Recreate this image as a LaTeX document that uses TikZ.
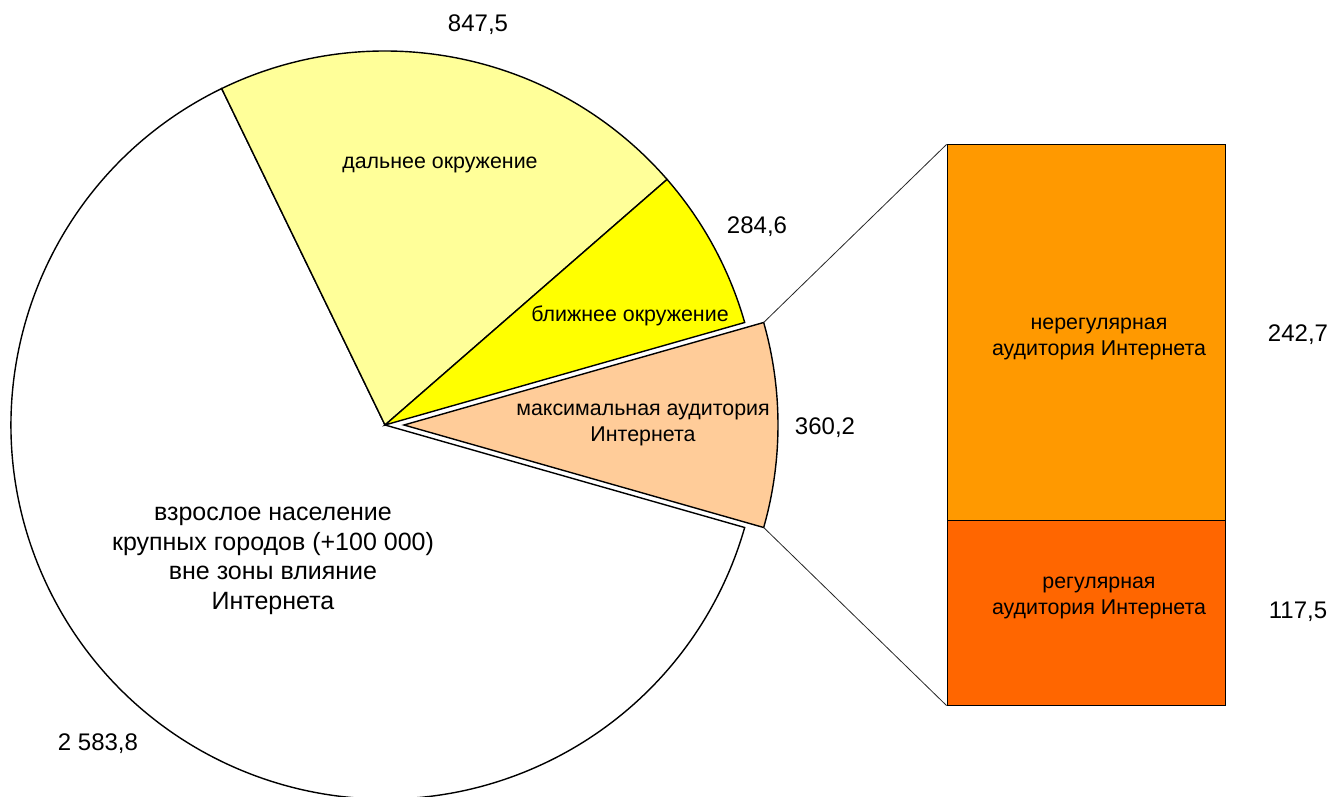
\documentclass[tikz,border=0pt]{standalone}
\usepackage{fontspec}
\setmainfont{Liberation Sans}
\definecolor{lyel}{HTML}{FFFF99}
\definecolor{yel}{HTML}{FFFF00}
\definecolor{peach}{HTML}{FFCC99}
\definecolor{orng}{HTML}{FF9900}
\definecolor{dorng}{HTML}{FF6600}
\begin{document}
\begin{tikzpicture}[x=1pt,y=1pt,
  slice/.style={draw=black,line width=1.4pt,line join=miter},
  num/.style={font=\fontsize{24}{28}\selectfont,inner sep=0pt},
  inlab/.style={font=\fontsize{21.4}{25.5}\selectfont,align=center,inner sep=0pt},
  biglab/.style={font=\fontsize{25}{29.5}\selectfont,align=center,inner sep=0pt},
  barseg/.style={draw=black,line width=1pt,minimum width=278pt,inner sep=0pt},
  conn/.style={draw=black!85,line width=0.8pt}]
\useasboundingbox (0,0) rectangle (1328,796);
\clip (0,0) rectangle (1328,796);
\def\R{374}
\coordinate (O) at (385,371);
\coordinate (Oe) at (404,371);
% white slice
\draw[slice,fill=white] (O) -- ++(115.894:\R) arc[start angle=115.894,end angle=344.093,radius=\R] -- cycle;
% light yellow
\draw[slice,fill=lyel] (O) -- ++(41.043:\R) arc[start angle=41.043,end angle=115.894,radius=\R] -- cycle;
% yellow
\draw[slice,fill=yel] (O) -- ++(15.907:\R) arc[start angle=15.907,end angle=41.043,radius=\R] -- cycle;
% exploded peach
\draw[slice,fill=peach] (Oe) -- ++(-15.907:\R) coordinate (pbot) arc[start angle=-15.907,end angle=15.907,radius=\R] coordinate (ptop) -- cycle;
% bar
\node[barseg,fill=orng,minimum height=376pt] (nonreg) at (1086,463) {};
\node[barseg,fill=dorng,minimum height=184pt] (reg) at (1086,183) {};
\draw[conn] (ptop) -- (nonreg.north west);
\draw[conn] (pbot) -- (reg.south west);
% labels
\node[num] (n1) at (478,771) {847,5};
\node[num] (n2) at (757,569) {284,6};
\node[num] (n3) at (825,368) {360,2};
\node[num] (n4) at (98,52) {2 583,8};
\node[num] (n5) at (1298,461) {242,7};
\node[num] (n6) at (1298,184) {117,5};
\node[inlab] (l1) at (440,631) {дальнее окружение};
\node[inlab] (l2) at (630,480) {ближнее окружение};
\node[inlab] (l3) at (643,371) {максимальная аудитория\\Интернета};
\node[biglab] (l4) at (273,235) {взрослое население\\крупных городов (+100 000)\\вне зоны влияние\\Интернета};
\node[inlab] (l5) at (1099,457) {нерегулярная\\аудитория Интернета};
\node[inlab] (l6) at (1099,198) {регулярная\\аудитория Интернета};
\end{tikzpicture}
\end{document}
